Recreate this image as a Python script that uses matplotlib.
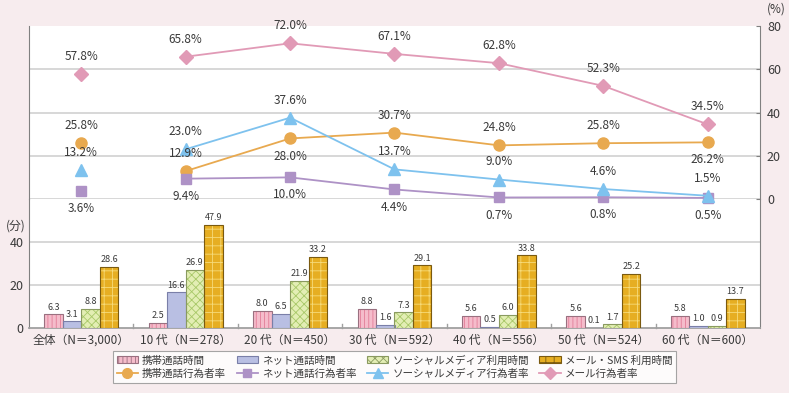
import matplotlib
matplotlib.use("Agg")
import matplotlib.pyplot as plt
import numpy as np
from matplotlib.patches import Patch
from matplotlib.lines import Line2D

plt.rcParams['font.family'] = ['Noto Sans CJK JP', 'DejaVu Sans']
plt.rcParams['hatch.linewidth'] = 0.6

categories = ["全体（N＝3,000）", "10 代（N＝278）", "20 代（N＝450）", "30 代（N＝592）",
              "40 代（N＝556）", "50 代（N＝524）", "60 代（N＝600）"]

# minutes
mobile_time = [6.3, 2.5, 8.0, 8.8, 5.6, 5.6, 5.8]
net_time = [3.1, 16.6, 6.5, 1.6, 0.5, 0.1, 1.0]
social_time = [8.8, 26.9, 21.9, 7.3, 6.0, 1.7, 0.9]
mail_time = [28.6, 47.9, 33.2, 29.1, 33.8, 25.2, 13.7]

# rates (%)
mobile_rate = [25.8, 12.9, 28.0, 30.7, 24.8, 25.8, 26.2]
net_rate = [3.6, 9.4, 10.0, 4.4, 0.7, 0.8, 0.5]
social_rate = [13.2, 23.0, 37.6, 13.7, 9.0, 4.6, 1.5]
mail_rate = [57.8, 65.8, 72.0, 67.1, 62.8, 52.3, 34.5]

bar_names = ["携帯通話時間", "ネット通話時間", "ソーシャルメディア利用時間", "メール・SMS 利用時間"]
line_names = ["携帯通話行為者率", "ネット通話行為者率", "ソーシャルメディア行為者率", "メール行為者率"]

# label placement (1 = above, -1 = below)
mobile_pos = [1, 1, -1, 1, 1, 1, -1]
net_pos = [-1] * 7
social_pos = [1] * 7
mail_pos = [1] * 7

W, H = 789, 393
fig = plt.figure(figsize=(W / 100, H / 100), dpi=100)
fig.patch.set_facecolor('#F7ECEE')

left = 29 / W
width = (760 - 29) / W
ax_b = fig.add_axes([left, (H - 328) / H, width, (328 - 199) / H])
ax_t = fig.add_axes([left, (H - 199) / H, width, (199 - 26) / H])

x = np.arange(len(categories))
text_col = '#3a3a3a'
grid_col = '#d4d4d4'
spine_col = '#808080'

# ---- bars ----
bw = 0.177
bar_styles = [
    dict(face='#F5BCCB', hatch='||||', hcol='#E27D98', edge='#9a7080'),
    dict(face='#B9BFE3', hatch=None, hcol='#8E95C8', edge='#7a7fa8'),
    dict(face='#E3EEB4', hatch='xxxx', hcol='#A8C868', edge='#8a9a60'),
    dict(face='#E6AE22', hatch='++', hcol='#F6DB7A', edge='#7a5a10'),
]
series = [mobile_time, net_time, social_time, mail_time]
for i, (vals, st) in enumerate(zip(series, bar_styles)):
    xs = x + (i - 1.5) * bw
    ax_b.bar(xs, vals, bw, color=st['face'], hatch=st['hatch'], edgecolor=st['hcol'], linewidth=0, zorder=3)
    ax_b.bar(xs, vals, bw, fill=False, edgecolor=st['edge'], linewidth=0.8, zorder=4)
    for xx, v in zip(xs, vals):
        ax_b.annotate(f"{v:.1f}", (xx, v), xytext=(0, 2), textcoords='offset points',
                      ha='center', va='bottom', fontsize=6.5, color=text_col, zorder=5)

ax_b.set_xlim(-0.5, len(categories) - 0.5)
ax_b.set_ylim(0, 60)
ax_b.set_yticks([0, 20, 40])
ax_b.set_yticklabels(['0', '20', '40'], fontsize=9, color=text_col)
for g in [20, 40]:
    ax_b.axhline(g, color=grid_col, lw=1.3, zorder=1)
ax_b.set_xticks(x)
ax_b.set_xticklabels(categories, fontsize=8.5, color=text_col)
ax_b.tick_params(axis='x', length=0, pad=4)
ax_b.tick_params(axis='y', length=0, pad=4)
for xb in np.arange(0.5, len(categories) - 1, 1.0):
    ax_b.plot([xb, xb], [0, 1.8], color='#a0a0a0', lw=1, zorder=2, clip_on=False)
ax_b.spines['top'].set_visible(False)
ax_b.spines['left'].set_color(spine_col)
ax_b.spines['right'].set_color(spine_col)
ax_b.spines['bottom'].set_color('#a0a0a0')
ax_b.spines['bottom'].set_linewidth(1.3)
fig.text(16 / W, (H - 226) / H, "(分)", fontsize=8.5, color=text_col, ha='center', va='center')

# ---- lines ----
ax_t.set_xlim(-0.5, len(categories) - 0.5)
ax_t.set_ylim(0, 80)
for g in [0, 20, 40, 60]:
    ax_t.axhline(g, color=grid_col, lw=1.3, zorder=1)
ax_t.set_xticks([])
ax_t.yaxis.tick_right()
ax_t.set_yticks([0, 20, 40, 60, 80])
ax_t.set_yticklabels(['0', '20', '40', '60', '80'], fontsize=9, color=text_col)
ax_t.tick_params(axis='y', length=3, direction='in', color=spine_col, pad=5)
ax_t.spines['top'].set_visible(False)
ax_t.spines['bottom'].set_visible(False)
ax_t.spines['left'].set_color(spine_col)
ax_t.spines['right'].set_color(spine_col)
fig.text(776 / W, (H - 9) / H, "(%)", fontsize=8.5, color=text_col, ha='center', va='center')

line_styles = [
    (mobile_rate, mobile_pos, '#E8A94F', 'o', 8),
    (net_rate, net_pos, '#AE92C6', 's', 7),
    (social_rate, social_pos, '#7EC2EE', '^', 8),
    (mail_rate, mail_pos, '#E19AB6', 'D', 7),
]
for vals, pos, col, mk, ms in line_styles:
    ax_t.plot(x[1:], vals[1:], color=col, lw=1.3, marker=mk, ms=ms, zorder=4, clip_on=False)
    ax_t.plot(x[:1], vals[:1], color=col, lw=0, marker=mk, ms=ms, zorder=4, clip_on=False)
    for xx, v, p in zip(x, vals, pos):
        ax_t.annotate(f"{v:.1f}%", (xx, v), xytext=(0, 8 * p), textcoords='offset points',
                      ha='center', va='bottom' if p > 0 else 'top', fontsize=8.5,
                      color=text_col, zorder=5, annotation_clip=False)

# ---- legend (row 1: bars, row 2: lines) ----
handles = []
for name, st, lname, ls in zip(bar_names, bar_styles, line_names, line_styles):
    handles.append(Patch(facecolor=st['face'], hatch=st['hatch'], edgecolor=st['edge'],
                         linewidth=0.8, label=name))
    vals, pos, col, mk, ms = ls
    handles.append(Line2D([0], [0], color=col, lw=1.3, marker=mk, ms=ms - 1, label=lname))
leg = fig.legend(handles=handles, ncol=4, loc='center', bbox_to_anchor=(0.5, (H - 367) / H),
                 fontsize=7.6, frameon=True, fancybox=False, edgecolor='#909090',
                 columnspacing=1.0, handlelength=2.0, handletextpad=0.4, borderpad=0.4,
                 labelspacing=0.3)
leg.get_frame().set_linewidth(0.8)
for t in leg.get_texts():
    t.set_color(text_col)

fig.savefig("out.png", dpi=100, facecolor=fig.get_facecolor())
